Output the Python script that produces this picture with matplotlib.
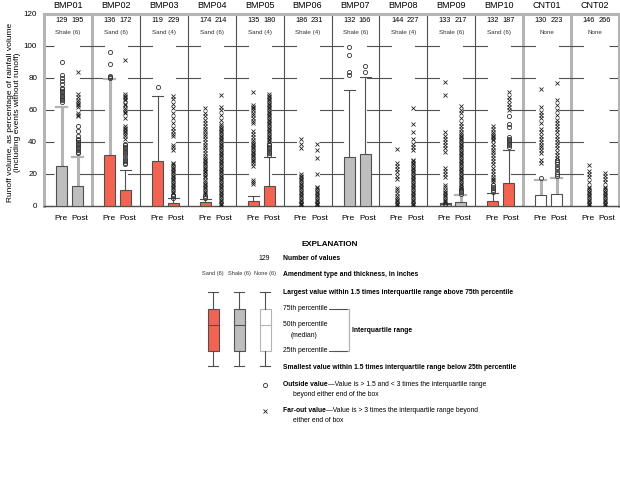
import matplotlib
matplotlib.use("Agg")
import matplotlib.pyplot as plt
from matplotlib.patches import Rectangle

plt.rcParams['font.family'] = ['Liberation Sans Narrow', 'Liberation Sans', 'DejaVu Sans']

# datos
sitios = ['BMP01', 'BMP02', 'BMP03', 'BMP04', 'BMP05', 'BMP06',
          'BMP07', 'BMP08', 'BMP09', 'BMP10', 'CNT01', 'CNT02']
enmienda = ['Shale (6)', 'Sand (6)', 'Sand (4)', 'Sand (6)', 'Sand (4)', 'Shale (4)',
            'Shale (6)', 'Shale (4)', 'Shale (6)', 'Sand (6)', 'None', 'None']
n_pre = [129, 136, 119, 174, 135, 186, 132, 144, 133, 132, 130, 146]
n_post = [195, 172, 229, 214, 180, 231, 166, 227, 217, 187, 223, 266]

q3_pre = [25.3, 31.8, 27.9, 2.2, 3.1, 0, 30.4, 0, 1.0, 3.4, 6.7, 0]
q3_post = [12.8, 10.0, 1.8, 0, 12.5, 0, 32.3, 0, 2.6, 14.6, 7.3, 0]
bigote_pre = [61.7, 79.4, 69.0, 4.6, 6.2, 0, 72.3, 0, 1.8, 7.9, 16.2, 0]
bigote_post = [30.4, 22.5, 4.8, 0, 30.4, 0, 80.4, 0, 6.9, 35.0, 17.3, 0]
# 'g' = bigote gris grueso, 'k' = bigote oscuro fino
color_big_pre = ['g', 'g', 'k', 'k', 'k', 'k', 'k', 'k', 'k', 'k', 'g', 'k']
color_big_post = ['g', 'k', 'k', 'k', 'k', 'k', 'k', 'k', 'g', 'k', 'g', 'k']

# outside values (circulos)
fuera_pre = [
    [65, 66, 67, 68, 69, 70, 71, 72, 73, 74, 76, 78, 80, 82, 90],
    [80, 80.5, 81.5, 88.5, 96.5],
    [74.5],
    [5, 6],
    [],
    [],
    [82, 84, 94.5, 99.5],
    [],
    [1.5],
    [9, 10, 11, 12, 13],
    [17.7],
    [],
]
fuera_post = [
    [33, 34, 35, 36, 37, 38, 39, 40, 41, 42, 44, 47, 50],
    [26, 27, 28, 29, 30, 32, 33, 34, 35, 36, 37, 38, 39],
    [5, 6, 7],
    [],
    [32, 33, 34, 35, 36, 37, 38, 39],
    [],
    [84, 87.5],
    [],
    [7.5, 8.5, 9.5, 10.5],
    [37, 38, 39, 40, 41, 42, 43, 49.5, 51.5, 56],
    [18.5, 20, 21.5, 23, 24.5, 26, 27.5, 29],
    [],
]
# far-out values (cruces)
lejos_pre = [
    [],
    [],
    [],
    [7, 8, 9, 10, 11, 12, 13, 14, 15, 16, 18, 19, 20, 21, 22, 23, 24, 25, 26, 27,
     28, 29, 30, 31, 33, 35, 37, 38, 40, 42, 44, 45, 47, 48, 50, 52, 54, 56, 58, 61.5],
    [14, 15, 16, 25, 27, 28, 29, 30, 31, 32, 33, 34, 35, 36, 37, 38, 39, 40, 41, 43,
     45, 47, 52, 53, 55, 57, 58, 60, 61, 62, 63, 71],
    [0.5, 1, 1.5, 2, 3, 4, 5, 6, 7, 8, 9, 10, 11, 12, 13, 14, 15, 16, 17, 18, 19, 20,
     36, 39, 42],
    [],
    [0.5, 1, 2, 3, 4, 5, 6, 8, 10, 11, 17, 19, 21, 23, 25, 27, 35.5],
    [2, 3, 4, 5, 6, 7, 8, 9, 10, 12, 13, 18, 20, 22, 24, 34, 36, 38, 40, 42, 44, 46,
     69.5, 77.5],
    [15, 16, 17, 18, 20, 22, 24, 26, 28, 30, 32, 34, 35, 37, 39, 41, 42, 43, 44, 45,
     46, 48, 50],
    [27, 29, 33, 35, 37, 38, 40, 42, 44, 46, 48, 52, 55, 57, 59, 62, 73],
    [0.5, 1, 2, 3, 4, 5, 6, 7, 8, 9, 10, 11, 12, 15, 18, 20, 22, 25.5],
]
lejos_post = [
    [56, 57, 58, 62, 63, 64, 65, 66, 68, 70, 84],
    [42, 44, 45, 46, 47, 48, 49, 50, 55, 58, 59, 60, 61, 63, 64, 66, 67, 68, 69, 70, 91],
    [8, 9, 10, 11, 12, 13, 14, 15, 16, 17, 18, 19, 20, 21, 22, 23, 24, 25, 26, 27,
     35, 37, 38, 44, 45, 47, 49, 52, 55, 58, 61, 64, 67, 69],
    [0.5, 1, 2, 3, 4, 5, 6, 7, 8, 9, 10, 11, 12, 13, 14, 15, 16, 17, 18, 19, 20, 21,
     22, 23, 24, 25, 26, 27, 28, 29, 30, 31, 32, 33, 34, 35, 36, 37, 38, 39, 40, 41,
     42, 43, 44, 45, 46, 47, 48, 49, 50, 51, 54, 57, 60, 62, 69.5],
    [40, 41, 42, 43, 44, 45, 46, 47, 48, 49, 50, 51, 52, 53, 54, 55, 56, 57, 58, 59,
     60, 61, 62, 63, 64, 65, 66, 67, 68, 69, 70],
    [0.5, 1, 1.5, 2, 3, 4, 5, 6, 7, 8, 9, 10, 11, 12, 20, 30, 35, 38.5],
    [],
    [0.5, 1, 2, 3, 4, 5, 6, 7, 8, 9, 10, 11, 12, 13, 14, 15, 16, 17, 18, 19, 20, 21,
     22, 23, 24, 25, 26, 27, 28, 29, 35, 37, 39, 42, 46, 51.5, 61.5],
    [11, 12, 13, 14, 15, 16, 17, 18, 19, 20, 21, 22, 23, 24, 25, 26, 27, 28, 29, 30,
     31, 32, 33, 34, 35, 36, 37, 38, 39, 40, 41, 42, 43, 44, 45, 46, 48, 50, 52, 55,
     58, 60, 62.5],
    [60, 62, 64, 66, 68, 71.5],
    [30, 32, 34, 36, 38, 40, 42, 44, 46, 48, 50, 52, 54, 57, 60, 63, 66, 77],
    [0.5, 1, 2, 3, 4, 5, 6, 7, 8, 9, 10, 11, 12, 15, 17, 19, 20.5],
]
separador_gris = [1, 10, 11]

ROJO = '#f26451'
GRIS = '#bebebe'
GRIS_CLARO = '#b4b4b4'
OSCURO = '#505050'
relleno = {'Sand': ROJO, 'Shale': GRIS, 'None': 'white'}

fig = plt.figure(figsize=(6.2, 4.95), dpi=100)
ax = fig.add_axes([44 / 620, 1 - 206 / 495, 575 / 620, 192 / 495])
ax.set_xlim(0, 12)
ax.set_ylim(0, 120)

ancho = 0.23


def dibujar_caja(x, q3, bigote, cbig, color, fuera, lejos):
    if bigote > q3:
        if cbig == 'g':
            ax.plot([x, x], [q3, bigote], color=GRIS_CLARO, lw=2.2, zorder=2)
            ax.plot([x - ancho / 2, x + ancho / 2], [bigote, bigote], color=GRIS_CLARO, lw=1.6, zorder=2)
        else:
            ax.plot([x, x], [q3, bigote], color=OSCURO, lw=0.8, zorder=2)
            ax.plot([x - ancho / 2, x + ancho / 2], [bigote, bigote], color=OSCURO, lw=0.8, zorder=2)
    if q3 > 0:
        ax.bar(x, q3, width=ancho, color=color, edgecolor=OSCURO, linewidth=0.8, zorder=3)
    ax.plot([x] * len(fuera), fuera, 'o', ms=3.0, mfc='none', mec='#333333', mew=0.6, zorder=4)
    ax.plot([x] * len(lejos), lejos, 'x', ms=3.0, color='#222222', mew=0.6, zorder=4)


for i, sitio in enumerate(sitios):
    color = relleno[enmienda[i].split(' ')[0]]
    xp, xq = i + 0.37, i + 0.70
    dibujar_caja(xp, q3_pre[i], bigote_pre[i], color_big_pre[i], color, fuera_pre[i], lejos_pre[i])
    dibujar_caja(xq, q3_post[i], bigote_post[i], color_big_post[i], color, fuera_post[i], lejos_post[i])
    ax.text(i + 0.5, 125, sitio, ha='center', va='center', fontsize=6.5, clip_on=False)
    ax.text(xp, 115.8, str(n_pre[i]), ha='center', va='center', fontsize=5.3)
    ax.text(xq, 115.8, str(n_post[i]), ha='center', va='center', fontsize=5.3)
    ax.text(i + 0.5, 108.2, enmienda[i], ha='center', va='center', fontsize=4.5, color='#333333')
    ax.text(xp - 0.02, -7.6, 'Pre', ha='center', va='center', fontsize=6, clip_on=False)
    ax.text(xq + 0.05, -7.6, 'Post', ha='center', va='center', fontsize=6, clip_on=False)

# separadores de paneles con sus marcas
for s in range(1, 12):
    if s in separador_gris:
        ax.axvline(s, color=GRIS_CLARO, lw=2.2, zorder=1)
    else:
        ax.axvline(s, color=OSCURO, lw=0.8, zorder=1)
    for yy in [20, 40, 60, 80, 100]:
        ax.plot([s - 0.25, s + 0.25], [yy, yy], color=OSCURO, lw=0.8, zorder=1)

for lado in ['left', 'right', 'top']:
    ax.spines[lado].set_color(GRIS_CLARO)
    ax.spines[lado].set_linewidth(2.2)
ax.spines['bottom'].set_color(OSCURO)
ax.spines['bottom'].set_linewidth(1)
ax.set_xticks([])
ax.set_yticks(range(0, 121, 20))
ax.tick_params(axis='y', direction='in', length=7, width=0.8, color=OSCURO,
               labelsize=5.8, right=True, pad=5)

fig.text(14 / 620, 1 - 112 / 495,
         'Runoff volume, as percentage of rainfall volume\n(including events without runoff)',
         rotation=90, ha='center', va='center', fontsize=6, linespacing=1.15)

# explicacion, en coordenadas de pixel
ex = fig.add_axes([0, 0, 1, 1])
ex.set_xlim(0, 620)
ex.set_ylim(495, 0)
ex.axis('off')
ex.patch.set_alpha(0)

fb = dict(fontsize=4.9, fontweight='bold', va='center')
fr = dict(fontsize=4.9, va='center')
ex.text(330, 245, 'EXPLANATION', ha='center', fontsize=5.8, fontweight='bold', va='center')
ex.text(270, 259, '129', ha='right', **fr)
ex.text(283, 259, 'Number of values', **fb)
for xc, etiqueta in zip([213, 239.5, 265.5], ['Sand (6)', 'Shale (6)', 'None (6)']):
    ex.text(xc, 274, etiqueta, ha='center', fontsize=4.1, va='center', color='#333333')
ex.text(283, 275, 'Amendment type and thickness, in inches', **fb)

for xc, col, cmed in zip([213.3, 239.3, 265.3], [ROJO, GRIS, 'white'], [OSCURO, OSCURO, GRIS_CLARO]):
    ex.plot([xc, xc], [292.3, 308.7], color=OSCURO, lw=0.8)
    ex.plot([xc, xc], [350.7, 366], color=OSCURO, lw=0.8)
    ex.plot([xc - 5, xc + 5], [292.3, 292.3], color=OSCURO, lw=0.8)
    ex.plot([xc - 5, xc + 5], [366, 366], color=OSCURO, lw=0.8)
    ec = OSCURO if col != 'white' else GRIS_CLARO
    ex.add_patch(Rectangle((xc - 5.3, 308.7), 10.6, 42, facecolor=col, edgecolor=ec, lw=0.8))
    ex.plot([xc - 5.3, xc + 5.3], [325, 325], color=cmed, lw=0.8)

ex.text(283, 292.3, 'Largest value within 1.5 times interquartile range above 75th percentile', **fb)
ex.text(283, 308.7, '75th percentile', **fr)
ex.text(283, 325, '50th percentile', **fr)
ex.text(304, 335.5, '(median)', ha='center', **fr)
ex.text(283, 350.7, '25th percentile', **fr)
ex.plot([333, 349, 349, 333], [308.7, 308.7, 350.7, 350.7], color=GRIS_CLARO, lw=0.9)
ex.plot([329, 347], [308.7, 308.7], color=OSCURO, lw=0.7)
ex.plot([329, 347], [350.7, 350.7], color=OSCURO, lw=0.7)
ex.text(352.5, 330, 'Interquartile range', **fb)
ex.text(283, 367.3, 'Smallest value within 1.5 times interquartile range below 25th percentile', **fb)

ex.plot([264.5], [385], 'o', ms=3.0, mfc='none', mec='#333333', mew=0.6)
t1 = ex.text(283, 385, 'Outside value', **fb)
ex.annotate('\u2014Value is > 1.5 and < 3 times the interquartile range', xy=(1, 0.5),
            xycoords=t1, ha='left', **fr)
ex.text(292.7, 394.5, 'beyond either end of the box', **fr)
ex.plot([265], [410.7], 'x', ms=3.0, color='#222222', mew=0.6)
t2 = ex.text(283, 410.7, 'Far-out value', **fb)
ex.annotate('\u2014Value is > 3 times the interquartile range beyond', xy=(1, 0.5),
            xycoords=t2, ha='left', **fr)
ex.text(292.7, 420.7, 'either end of box', **fr)

fig.savefig('out.png', dpi=100)
